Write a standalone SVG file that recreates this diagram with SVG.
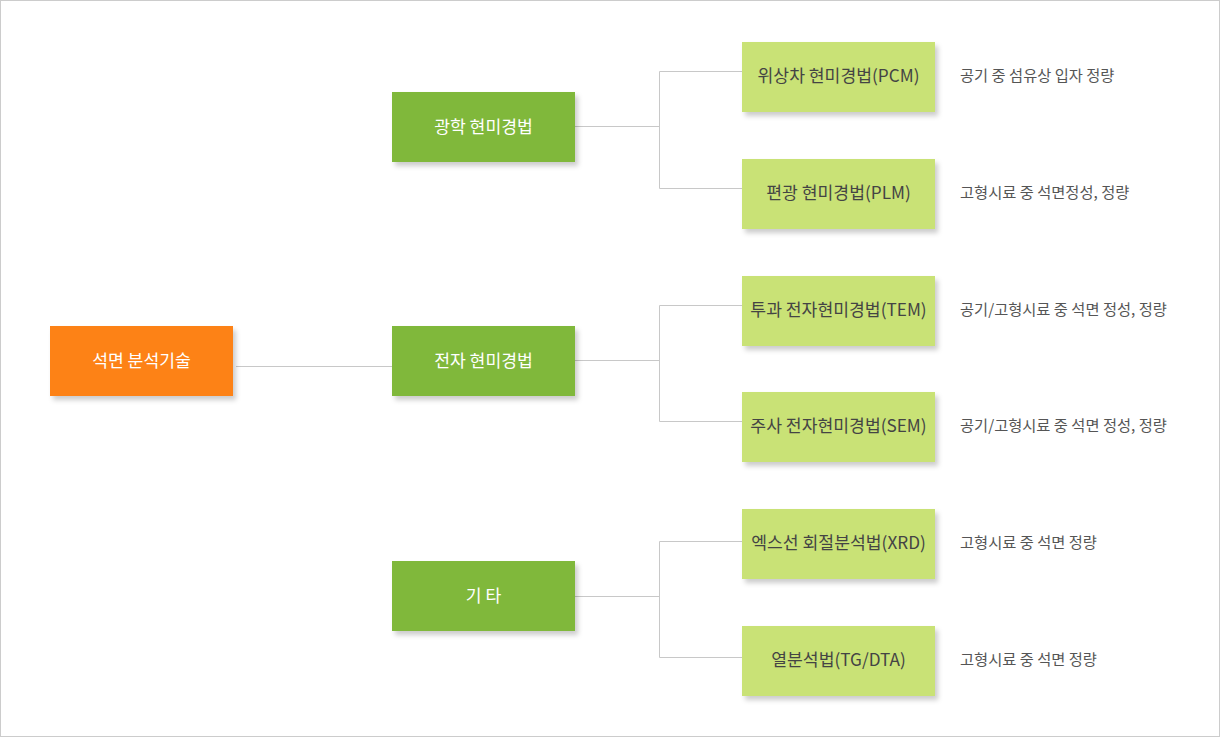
<svg xmlns="http://www.w3.org/2000/svg" width="1220" height="737" viewBox="0 0 1220 737">
<defs>
<filter id="sh" x="-10%" y="-20%" width="130%" height="160%">
<feDropShadow dx="3" dy="4" stdDeviation="2.5" flood-color="#000" flood-opacity="0.2"/>
</filter>
</defs>
<style>
.t{font-family:"Noto Sans CJK KR","Noto Sans",sans-serif;text-anchor:middle;dominant-baseline:central}
.w{fill:#fff;font-size:17.2px}
.d{fill:#444;font-size:17.2px}
.s{font-family:"Noto Sans CJK KR","Noto Sans",sans-serif;fill:#555;font-size:15.3px;dominant-baseline:central}
.c{fill:none;stroke:#c8c8c8;stroke-width:1}
</style>
<rect x="0.5" y="0.5" width="1219" height="736" fill="#fff" stroke="#ccc"/>
<g id="connectors">
<path class="c" d="M236 366.5H392"/>
<path class="c" d="M575 126.5H659.5M659.5 71.5V188.5M659.5 71.5H742M659.5 188.5H742"/>
<path class="c" d="M575 360.5H659.5M659.5 305.5V421.5M659.5 305.5H742M659.5 421.5H742"/>
<path class="c" d="M575 596.5H659.5M659.5 541.5V657.5M659.5 541.5H742M659.5 657.5H742"/>
</g>
<g id="root"><rect x="50" y="326" width="183" height="70" fill="#fd8213" filter="url(#sh)"/><text class="t w" x="141.5" y="359">석면 분석기술</text></g>
<g id="optical"><rect x="392" y="92" width="183" height="70" fill="#80b83b" filter="url(#sh)"/><text class="t w" x="483.5" y="125">광학 현미경법</text></g>
<g id="electron"><rect x="392" y="326" width="183" height="70" fill="#80b83b" filter="url(#sh)"/><text class="t w" x="483.5" y="359">전자 현미경법</text></g>
<g id="etc"><rect x="392" y="561" width="183" height="70" fill="#80b83b" filter="url(#sh)"/><text class="t w" x="483.5" y="594">기 타</text></g>
<g id="pcm"><rect x="742" y="42" width="193" height="70" fill="#c9e276" filter="url(#sh)"/><text class="t d" x="838.5" y="74">위상차 현미경법(PCM)</text><text class="s" x="960" y="74">공기 중 섬유상 입자 정량</text></g>
<g id="plm"><rect x="742" y="159" width="193" height="70" fill="#c9e276" filter="url(#sh)"/><text class="t d" x="838.5" y="191">편광 현미경법(PLM)</text><text class="s" x="960" y="191">고형시료 중 석면정성, 정량</text></g>
<g id="tem"><rect x="742" y="276" width="193" height="70" fill="#c9e276" filter="url(#sh)"/><text class="t d" x="838.5" y="308">투과 전자현미경법(TEM)</text><text class="s" x="960" y="308">공기/고형시료 중 석면 정성, 정량</text></g>
<g id="sem"><rect x="742" y="392" width="193" height="70" fill="#c9e276" filter="url(#sh)"/><text class="t d" x="838.5" y="424">주사 전자현미경법(SEM)</text><text class="s" x="960" y="424">공기/고형시료 중 석면 정성, 정량</text></g>
<g id="xrd"><rect x="742" y="509" width="193" height="70" fill="#c9e276" filter="url(#sh)"/><text class="t d" x="838.5" y="541">엑스선 회절분석법(XRD)</text><text class="s" x="960" y="541">고형시료 중 석면 정량</text></g>
<g id="tg"><rect x="742" y="626" width="193" height="70" fill="#c9e276" filter="url(#sh)"/><text class="t d" x="838.5" y="658">열분석법(TG/DTA)</text><text class="s" x="960" y="658">고형시료 중 석면 정량</text></g>
</svg>
